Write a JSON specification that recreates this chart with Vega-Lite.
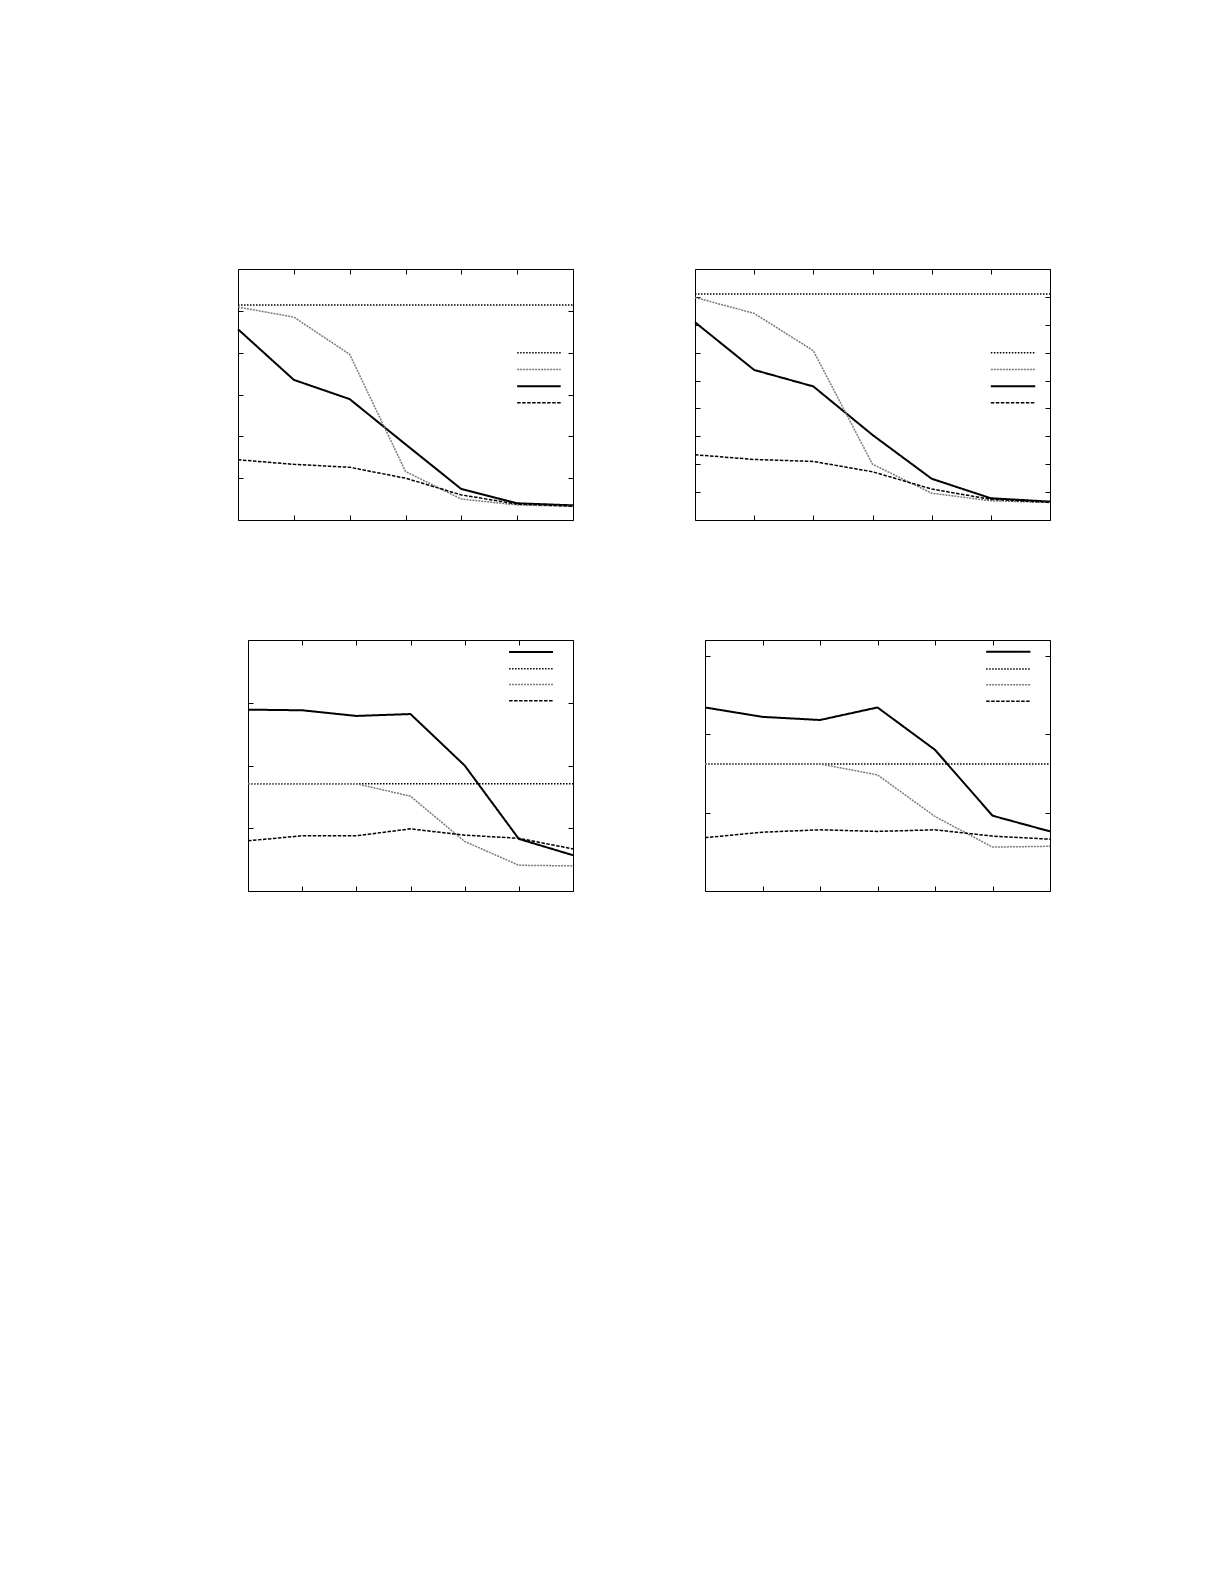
{
  "$schema": "https://vega.github.io/schema/vega-lite/v6.json",
  "background": "white",
  "padding": {"left": 233, "top": 268, "right": 5, "bottom": 5},
  "spacing": 118,
  "datasets": {
    "lines": [
      {"panel": "p1", "series": "a", "x": 0, "y": 4.56}, {"panel": "p1", "series": "a", "x": 1, "y": 3.35},
      {"panel": "p1", "series": "a", "x": 2, "y": 2.89}, {"panel": "p1", "series": "a", "x": 3, "y": 1.81},
      {"panel": "p1", "series": "a", "x": 4, "y": 0.74}, {"panel": "p1", "series": "a", "x": 5, "y": 0.40},
      {"panel": "p1", "series": "a", "x": 6, "y": 0.35},
      {"panel": "p1", "series": "b", "x": 0, "y": 5.14}, {"panel": "p1", "series": "b", "x": 1, "y": 5.14},
      {"panel": "p1", "series": "b", "x": 2, "y": 5.14}, {"panel": "p1", "series": "b", "x": 3, "y": 5.14},
      {"panel": "p1", "series": "b", "x": 4, "y": 5.14}, {"panel": "p1", "series": "b", "x": 5, "y": 5.14},
      {"panel": "p1", "series": "b", "x": 6, "y": 5.14},
      {"panel": "p1", "series": "c", "x": 0, "y": 5.09}, {"panel": "p1", "series": "c", "x": 1, "y": 4.85},
      {"panel": "p1", "series": "c", "x": 2, "y": 3.96}, {"panel": "p1", "series": "c", "x": 3, "y": 1.16},
      {"panel": "p1", "series": "c", "x": 4, "y": 0.50}, {"panel": "p1", "series": "c", "x": 5, "y": 0.36},
      {"panel": "p1", "series": "c", "x": 6, "y": 0.33},
      {"panel": "p1", "series": "d", "x": 0, "y": 1.44}, {"panel": "p1", "series": "d", "x": 1, "y": 1.33},
      {"panel": "p1", "series": "d", "x": 2, "y": 1.26}, {"panel": "p1", "series": "d", "x": 3, "y": 1.00},
      {"panel": "p1", "series": "d", "x": 4, "y": 0.60}, {"panel": "p1", "series": "d", "x": 5, "y": 0.38},
      {"panel": "p1", "series": "d", "x": 6, "y": 0.33},

      {"panel": "p2", "series": "a", "x": 0, "y": 7.09}, {"panel": "p2", "series": "a", "x": 1, "y": 5.38},
      {"panel": "p2", "series": "a", "x": 2, "y": 4.79}, {"panel": "p2", "series": "a", "x": 3, "y": 3.05},
      {"panel": "p2", "series": "a", "x": 4, "y": 1.48}, {"panel": "p2", "series": "a", "x": 5, "y": 0.78},
      {"panel": "p2", "series": "a", "x": 6, "y": 0.66},
      {"panel": "p2", "series": "b", "x": 0, "y": 8.10}, {"panel": "p2", "series": "b", "x": 1, "y": 8.10},
      {"panel": "p2", "series": "b", "x": 2, "y": 8.10}, {"panel": "p2", "series": "b", "x": 3, "y": 8.10},
      {"panel": "p2", "series": "b", "x": 4, "y": 8.10}, {"panel": "p2", "series": "b", "x": 5, "y": 8.10},
      {"panel": "p2", "series": "b", "x": 6, "y": 8.10},
      {"panel": "p2", "series": "c", "x": 0, "y": 7.98}, {"panel": "p2", "series": "c", "x": 1, "y": 7.41},
      {"panel": "p2", "series": "c", "x": 2, "y": 6.07}, {"panel": "p2", "series": "c", "x": 3, "y": 2.00},
      {"panel": "p2", "series": "c", "x": 4, "y": 0.96}, {"panel": "p2", "series": "c", "x": 5, "y": 0.69},
      {"panel": "p2", "series": "c", "x": 6, "y": 0.63},
      {"panel": "p2", "series": "d", "x": 0, "y": 2.34}, {"panel": "p2", "series": "d", "x": 1, "y": 2.17},
      {"panel": "p2", "series": "d", "x": 2, "y": 2.10}, {"panel": "p2", "series": "d", "x": 3, "y": 1.73},
      {"panel": "p2", "series": "d", "x": 4, "y": 1.11}, {"panel": "p2", "series": "d", "x": 5, "y": 0.74},
      {"panel": "p2", "series": "d", "x": 6, "y": 0.63},

      {"panel": "p3", "series": "a", "x": 0, "y": 2.89}, {"panel": "p3", "series": "a", "x": 1, "y": 2.88},
      {"panel": "p3", "series": "a", "x": 2, "y": 2.79}, {"panel": "p3", "series": "a", "x": 3, "y": 2.82},
      {"panel": "p3", "series": "a", "x": 4, "y": 2.00}, {"panel": "p3", "series": "a", "x": 5, "y": 0.83},
      {"panel": "p3", "series": "a", "x": 6, "y": 0.57},
      {"panel": "p3", "series": "b", "x": 0, "y": 1.71}, {"panel": "p3", "series": "b", "x": 1, "y": 1.71},
      {"panel": "p3", "series": "b", "x": 2, "y": 1.71}, {"panel": "p3", "series": "b", "x": 3, "y": 1.71},
      {"panel": "p3", "series": "b", "x": 4, "y": 1.71}, {"panel": "p3", "series": "b", "x": 5, "y": 1.71},
      {"panel": "p3", "series": "b", "x": 6, "y": 1.71},
      {"panel": "p3", "series": "c", "x": 0, "y": 1.71}, {"panel": "p3", "series": "c", "x": 1, "y": 1.71},
      {"panel": "p3", "series": "c", "x": 2, "y": 1.71}, {"panel": "p3", "series": "c", "x": 3, "y": 1.51},
      {"panel": "p3", "series": "c", "x": 4, "y": 0.79}, {"panel": "p3", "series": "c", "x": 5, "y": 0.41},
      {"panel": "p3", "series": "c", "x": 6, "y": 0.40},
      {"panel": "p3", "series": "d", "x": 0, "y": 0.80}, {"panel": "p3", "series": "d", "x": 1, "y": 0.88},
      {"panel": "p3", "series": "d", "x": 2, "y": 0.88}, {"panel": "p3", "series": "d", "x": 3, "y": 0.99},
      {"panel": "p3", "series": "d", "x": 4, "y": 0.89}, {"panel": "p3", "series": "d", "x": 5, "y": 0.84},
      {"panel": "p3", "series": "d", "x": 6, "y": 0.67},

      {"panel": "p4", "series": "a", "x": 0, "y": 2.34}, {"panel": "p4", "series": "a", "x": 1, "y": 2.22},
      {"panel": "p4", "series": "a", "x": 2, "y": 2.18}, {"panel": "p4", "series": "a", "x": 3, "y": 2.34},
      {"panel": "p4", "series": "a", "x": 4, "y": 1.80}, {"panel": "p4", "series": "a", "x": 5, "y": 0.96},
      {"panel": "p4", "series": "a", "x": 6, "y": 0.76},
      {"panel": "p4", "series": "b", "x": 0, "y": 1.62}, {"panel": "p4", "series": "b", "x": 1, "y": 1.62},
      {"panel": "p4", "series": "b", "x": 2, "y": 1.62}, {"panel": "p4", "series": "b", "x": 3, "y": 1.62},
      {"panel": "p4", "series": "b", "x": 4, "y": 1.62}, {"panel": "p4", "series": "b", "x": 5, "y": 1.62},
      {"panel": "p4", "series": "b", "x": 6, "y": 1.62},
      {"panel": "p4", "series": "c", "x": 0, "y": 1.62}, {"panel": "p4", "series": "c", "x": 1, "y": 1.62},
      {"panel": "p4", "series": "c", "x": 2, "y": 1.62}, {"panel": "p4", "series": "c", "x": 3, "y": 1.48},
      {"panel": "p4", "series": "c", "x": 4, "y": 0.95}, {"panel": "p4", "series": "c", "x": 5, "y": 0.56},
      {"panel": "p4", "series": "c", "x": 6, "y": 0.57},
      {"panel": "p4", "series": "d", "x": 0, "y": 0.68}, {"panel": "p4", "series": "d", "x": 1, "y": 0.75},
      {"panel": "p4", "series": "d", "x": 2, "y": 0.78}, {"panel": "p4", "series": "d", "x": 3, "y": 0.76},
      {"panel": "p4", "series": "d", "x": 4, "y": 0.78}, {"panel": "p4", "series": "d", "x": 5, "y": 0.70},
      {"panel": "p4", "series": "d", "x": 6, "y": 0.66}
    ],
    "keys": [
      {"panel": "p1", "series": "b", "x": 5.0, "x2": 5.78, "y": 4.0},
      {"panel": "p1", "series": "c", "x": 5.0, "x2": 5.78, "y": 3.6},
      {"panel": "p1", "series": "a", "x": 5.0, "x2": 5.78, "y": 3.2},
      {"panel": "p1", "series": "d", "x": 5.0, "x2": 5.78, "y": 2.8},
      {"panel": "p2", "series": "b", "x": 5.0, "x2": 5.75, "y": 6.0},
      {"panel": "p2", "series": "c", "x": 5.0, "x2": 5.75, "y": 5.4},
      {"panel": "p2", "series": "a", "x": 5.0, "x2": 5.75, "y": 4.8},
      {"panel": "p2", "series": "d", "x": 5.0, "x2": 5.75, "y": 4.2},
      {"panel": "p3", "series": "a", "x": 4.82, "x2": 5.63, "y": 3.81},
      {"panel": "p3", "series": "b", "x": 4.82, "x2": 5.63, "y": 3.54},
      {"panel": "p3", "series": "c", "x": 4.82, "x2": 5.63, "y": 3.29},
      {"panel": "p3", "series": "d", "x": 4.82, "x2": 5.63, "y": 3.03},
      {"panel": "p4", "series": "a", "x": 4.89, "x2": 5.66, "y": 3.05},
      {"panel": "p4", "series": "b", "x": 4.89, "x2": 5.66, "y": 2.83},
      {"panel": "p4", "series": "c", "x": 4.89, "x2": 5.66, "y": 2.63},
      {"panel": "p4", "series": "d", "x": 4.89, "x2": 5.66, "y": 2.42}
    ]
  },
  "vconcat": [
    {
      "spacing": 112,
      "hconcat": [
        {
          "width": 335,
          "height": 251,
          "layer": [
            {
              "data": {"name": "lines"},
              "transform": [{"filter": "datum.panel == 'p1'"}],
              "mark": {"type": "line"},
              "encoding": {
                "x": {"field": "x", "type": "quantitative", "scale": {"domain": [0, 6], "nice": false, "zero": false}, "axis": {"orient": "bottom", "values": [0, 1, 2, 3, 4, 5, 6]}},
                "y": {"field": "y", "type": "quantitative", "scale": {"domain": [0, 6], "nice": false, "zero": false}, "axis": {"orient": "left", "values": [1, 2, 3, 4, 5]}},
                "color": {"field": "series", "type": "nominal", "scale": {"domain": ["a", "b", "c", "d"], "range": ["#000000", "#000000", "#7a7a7a", "#000000"]}, "legend": null},
                "strokeDash": {"field": "series", "type": "nominal", "scale": {"domain": ["a", "b", "c", "d"], "range": [[1, 0], [1.5, 1.5], [2, 1], [3.5, 1.5]]}, "legend": null},
                "strokeWidth": {"condition": {"test": "datum.series == 'a'", "value": 2}, "value": 1.5}
              }
            },
            {
              "data": {"name": "keys"},
              "transform": [{"filter": "datum.panel == 'p1'"}],
              "mark": {"type": "rule"},
              "encoding": {
                "x": {"field": "x", "type": "quantitative", "scale": {"domain": [0, 6], "nice": false, "zero": false}, "axis": {"orient": "top", "values": [0, 1, 2, 3, 4, 5, 6]}},
                "x2": {"field": "x2"},
                "y": {"field": "y", "type": "quantitative", "scale": {"domain": [0, 6], "nice": false, "zero": false}, "axis": {"orient": "right", "values": [1, 2, 3, 4, 5]}},
                "color": {"field": "series", "type": "nominal", "legend": null},
                "strokeDash": {"field": "series", "type": "nominal", "legend": null},
                "strokeWidth": {"condition": {"test": "datum.series == 'a'", "value": 2}, "value": 1.5}
              }
            }
          ],
          "resolve": {"scale": {"x": "independent", "y": "independent"}}
        },
        {
          "width": 355,
          "height": 251,
          "layer": [
            {
              "data": {"name": "lines"},
              "transform": [{"filter": "datum.panel == 'p2'"}],
              "mark": {"type": "line"},
              "encoding": {
                "x": {"field": "x", "type": "quantitative", "scale": {"domain": [0, 6], "nice": false, "zero": false}, "axis": {"orient": "bottom", "values": [0, 1, 2, 3, 4, 5, 6]}},
                "y": {"field": "y", "type": "quantitative", "scale": {"domain": [0, 9], "nice": false, "zero": false}, "axis": {"orient": "left", "values": [1, 2, 3, 4, 5, 6, 7, 8]}},
                "color": {"field": "series", "type": "nominal", "scale": {"domain": ["a", "b", "c", "d"], "range": ["#000000", "#000000", "#7a7a7a", "#000000"]}, "legend": null},
                "strokeDash": {"field": "series", "type": "nominal", "scale": {"domain": ["a", "b", "c", "d"], "range": [[1, 0], [1.5, 1.5], [2, 1], [3.5, 1.5]]}, "legend": null},
                "strokeWidth": {"condition": {"test": "datum.series == 'a'", "value": 2}, "value": 1.5}
              }
            },
            {
              "data": {"name": "keys"},
              "transform": [{"filter": "datum.panel == 'p2'"}],
              "mark": {"type": "rule"},
              "encoding": {
                "x": {"field": "x", "type": "quantitative", "scale": {"domain": [0, 6], "nice": false, "zero": false}, "axis": {"orient": "top", "values": [0, 1, 2, 3, 4, 5, 6]}},
                "x2": {"field": "x2"},
                "y": {"field": "y", "type": "quantitative", "scale": {"domain": [0, 9], "nice": false, "zero": false}, "axis": {"orient": "right", "values": [1, 2, 3, 4, 5, 6, 7, 8]}},
                "color": {"field": "series", "type": "nominal", "legend": null},
                "strokeDash": {"field": "series", "type": "nominal", "legend": null},
                "strokeWidth": {"condition": {"test": "datum.series == 'a'", "value": 2}, "value": 1.5}
              }
            }
          ],
          "resolve": {"scale": {"x": "independent", "y": "independent"}}
        }
      ]
    },
    {
      "spacing": 0,
      "hconcat": [
        {
          "width": 5,
          "height": 1,
          "data": {"values": []},
          "mark": {"type": "point"},
          "view": {"stroke": null}
        },
        {
          "width": 325,
          "height": 251,
          "layer": [
            {
              "data": {"name": "lines"},
              "transform": [{"filter": "datum.panel == 'p3'"}],
              "mark": {"type": "line"},
              "encoding": {
                "x": {"field": "x", "type": "quantitative", "scale": {"domain": [0, 6], "nice": false, "zero": false}, "axis": {"orient": "bottom", "values": [0, 1, 2, 3, 4, 5, 6]}},
                "y": {"field": "y", "type": "quantitative", "scale": {"domain": [0, 4], "nice": false, "zero": false}, "axis": {"orient": "left", "values": [1, 2, 3]}},
                "color": {"field": "series", "type": "nominal", "scale": {"domain": ["a", "b", "c", "d"], "range": ["#000000", "#000000", "#7a7a7a", "#000000"]}, "legend": null},
                "strokeDash": {"field": "series", "type": "nominal", "scale": {"domain": ["a", "b", "c", "d"], "range": [[1, 0], [1.5, 1.5], [2, 1], [3.5, 1.5]]}, "legend": null},
                "strokeWidth": {"condition": {"test": "datum.series == 'a'", "value": 2}, "value": 1.5}
              }
            },
            {
              "data": {"name": "keys"},
              "transform": [{"filter": "datum.panel == 'p3'"}],
              "mark": {"type": "rule"},
              "encoding": {
                "x": {"field": "x", "type": "quantitative", "scale": {"domain": [0, 6], "nice": false, "zero": false}, "axis": {"orient": "top", "values": [0, 1, 2, 3, 4, 5, 6]}},
                "x2": {"field": "x2"},
                "y": {"field": "y", "type": "quantitative", "scale": {"domain": [0, 4], "nice": false, "zero": false}, "axis": {"orient": "right", "values": [1, 2, 3]}},
                "color": {"field": "series", "type": "nominal", "legend": null},
                "strokeDash": {"field": "series", "type": "nominal", "legend": null},
                "strokeWidth": {"condition": {"test": "datum.series == 'a'", "value": 2}, "value": 1.5}
              }
            }
          ],
          "resolve": {"scale": {"x": "independent", "y": "independent"}}
        },
        {
          "width": 345,
          "height": 251,
          "layer": [
            {
              "data": {"name": "lines"},
              "transform": [{"filter": "datum.panel == 'p4'"}],
              "mark": {"type": "line"},
              "encoding": {
                "x": {"field": "x", "type": "quantitative", "scale": {"domain": [0, 6], "nice": false, "zero": false}, "axis": {"orient": "bottom", "values": [0, 1, 2, 3, 4, 5, 6]}},
                "y": {"field": "y", "type": "quantitative", "scale": {"domain": [0, 3.2], "nice": false, "zero": false}, "axis": {"orient": "left", "values": [1, 2, 3], "minExtent": 126}},
                "color": {"field": "series", "type": "nominal", "scale": {"domain": ["a", "b", "c", "d"], "range": ["#000000", "#000000", "#7a7a7a", "#000000"]}, "legend": null},
                "strokeDash": {"field": "series", "type": "nominal", "scale": {"domain": ["a", "b", "c", "d"], "range": [[1, 0], [1.5, 1.5], [2, 1], [3.5, 1.5]]}, "legend": null},
                "strokeWidth": {"condition": {"test": "datum.series == 'a'", "value": 2}, "value": 1.5}
              }
            },
            {
              "data": {"name": "keys"},
              "transform": [{"filter": "datum.panel == 'p4'"}],
              "mark": {"type": "rule"},
              "encoding": {
                "x": {"field": "x", "type": "quantitative", "scale": {"domain": [0, 6], "nice": false, "zero": false}, "axis": {"orient": "top", "values": [0, 1, 2, 3, 4, 5, 6]}},
                "x2": {"field": "x2"},
                "y": {"field": "y", "type": "quantitative", "scale": {"domain": [0, 3.2], "nice": false, "zero": false}, "axis": {"orient": "right", "values": [1, 2, 3]}},
                "color": {"field": "series", "type": "nominal", "legend": null},
                "strokeDash": {"field": "series", "type": "nominal", "legend": null},
                "strokeWidth": {"condition": {"test": "datum.series == 'a'", "value": 2}, "value": 1.5}
              }
            }
          ],
          "resolve": {"scale": {"x": "independent", "y": "independent"}}
        }
      ]
    }
  ],
  "config": {
    "view": {"stroke": "#000000", "strokeWidth": 1},
    "axis": {
      "labels": false,
      "domain": false,
      "grid": false,
      "title": null,
      "ticks": true,
      "tickSize": -5,
      "tickColor": "#000000",
      "tickWidth": 1,
      "minExtent": 0
    }
  }
}
